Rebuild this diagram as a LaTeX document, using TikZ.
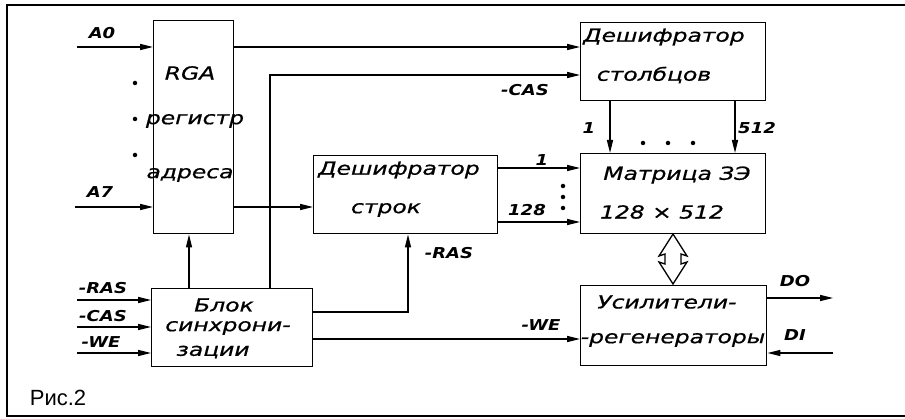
\documentclass[tikz,border=0pt]{standalone}
\usepackage{fontspec}
\setmainfont{Liberation Sans}
\newfontfamily\hand[FakeStretch=1.3,FakeBold=0.8]{DejaVu Sans}
\newfontfamily\handb[FakeStretch=1.2]{DejaVu Sans}
\usetikzlibrary{arrows.meta}
\begin{document}
\begin{tikzpicture}[x=1pt,y=-1pt,
  box/.style={draw, line width=1.4pt, inner sep=0pt, anchor=north west},
  wire/.style={line width=1.4pt},
  arr/.style={wire, -{Triangle[length=13pt,width=6pt]}},
  txt/.style={font=\hand\itshape\fontsize{18}{18}\selectfont, inner sep=0pt},
  sig/.style={font=\handb\bfseries\itshape\fontsize{15}{15}\selectfont, inner sep=0pt},
  dotn/.style={circle, fill, inner sep=0pt, minimum size=4.5pt}
]
\useasboundingbox (0,0) rectangle (905,419);
% frame
\draw[line width=1.5pt] (905,5) -- (7,5) -- (7,416) -- (905,416);

% boxes
\node[box, minimum width=80pt,  minimum height=213pt] (rga)  at (153,20) {};
\node[box, minimum width=185pt, minimum height=78pt]  (cold) at (580,22) {};
\node[box, minimum width=185pt, minimum height=80pt]  (mat)  at (580,153) {};
\node[box, minimum width=184pt, minimum height=78pt]  (rowd) at (313,155) {};
\node[box, minimum width=161pt, minimum height=78pt]  (sync) at (151,288) {};
\node[box, minimum width=186pt, minimum height=80pt]  (amp)  at (580,285) {};

% box texts
\node[txt] (t1) at (190,73) {RGA};
\node[txt] (t2) at (195,121) {регистр};
\node[txt] (t3) at (190,175) {адреса};
\node[txt] (t4) at (664,37) {Дешифратор};
\node[txt] (t5) at (654,75) {столбцов};
\node[txt] (t6) at (677,175) {Матрица ЗЭ};
\node[txt] (t7) at (662,212) {128 × 512};
\node[txt] (t8) at (399,170) {Дешифратор};
\node[txt] (t9) at (386,210) {строк};
\node[txt] (t10) at (224,305) {Блок};
\node[txt] (t11) at (228,328) {синхрони-};
\node[txt] (t12) at (213,352) {зации};
\node[txt] (t13) at (667,302) {Усилители-};
\node[txt] (t14) at (673,340) {-регенераторы};

% coordinates
\coordinate (a0) at (77,47);
\coordinate (a7) at (75,207);
\coordinate (cx) at (270,75);
\coordinate (sx) at (189,0);
\coordinate (r1) at (0,168);
\coordinate (r2) at (0,222);
\coordinate (rx) at (408,312);
\coordinate (we) at (0,339);
\coordinate (c1) at (610,0);
\coordinate (c2) at (735,0);
\coordinate (ras) at (77,300);
\coordinate (cas) at (77,327);
\coordinate (wei) at (77,353);
\coordinate (do) at (833,298);
\coordinate (di) at (833,353);

% connectors
\draw[arr] (a0) -- (a0 -| rga.west);
\draw[arr] (a7) -- (a7 -| rga.west);
\draw[arr] (rga.east |- a0) -- (cold.west |- a0);
\draw[arr] (cx |- sync.north) -- (cx) -- (cx -| cold.west);
\draw[arr] (rga.east |- a7) -- (rowd.west |- a7);
\draw[arr] (sx |- sync.north) -- (sx |- rga.south);
\draw[arr] (rowd.east |- r1) -- (mat.west |- r1);
\draw[arr] (rowd.east |- r2) -- (mat.west |- r2);
\draw[arr] (sync.east |- rx) -- (rx) -- (rx |- rowd.south);
\draw[arr] (sync.east |- we) -- (amp.west |- we);
\draw[arr] (c1 |- cold.south) -- (c1 |- mat.north);
\draw[arr] (c2 |- cold.south) -- (c2 |- mat.north);
\draw[arr] (ras) -- (ras -| sync.west);
\draw[arr] (cas) -- (cas -| sync.west);
\draw[arr] (wei) -- (wei -| sync.west);
\draw[arr] (amp.east |- do) -- (do);
\draw[arr] (di) -- (amp.east |- di);

% hollow double arrow
\draw[line width=1.3pt, line join=miter]
  (673,234) -- (687,256) -- (681,254) -- (681,264) -- (687,262) -- (673,284)
  -- (659,262) -- (665,264) -- (665,254) -- (659,256) -- cycle;

% dots
\node[dotn] (d1) at (135,83) {};
\node[dotn] (d2) at (135,119) {};
\node[dotn] (d3) at (135,155) {};
\node[dotn] (d4) at (643,143) {};
\node[dotn] (d5) at (668,143) {};
\node[dotn] (d6) at (693,143) {};
\node[dotn] (d7) at (563,186) {};
\node[dotn] (d8) at (563,197) {};
\node[dotn] (d9) at (563,208) {};

% signal labels
\node[sig] (l1) at (102,33) {A0};
\node[sig] (l2) at (100,192) {A7};
\node[sig] (l3) at (525,90) {-CAS};
\node[sig] (l4) at (589,128) {1};
\node[sig] (l5) at (757,128) {512};
\node[sig] (l6) at (542,160) {1};
\node[sig] (l7) at (527,210) {128};
\node[sig] (l8) at (449,253) {-RAS};
\node[sig] (l9) at (541,325) {-WE};
\node[sig] (l10) at (103,288) {-RAS};
\node[sig] (l11) at (103,316) {-CAS};
\node[sig] (l12) at (101,342) {-WE};
\node[sig] (l13) at (795,281) {DO};
\node[sig] (l14) at (795,335) {DI};

\node[font=\fontsize{22}{22}\selectfont, inner sep=0pt] (fig) at (58,398) {Рис.2};
\end{tikzpicture}
\end{document}
